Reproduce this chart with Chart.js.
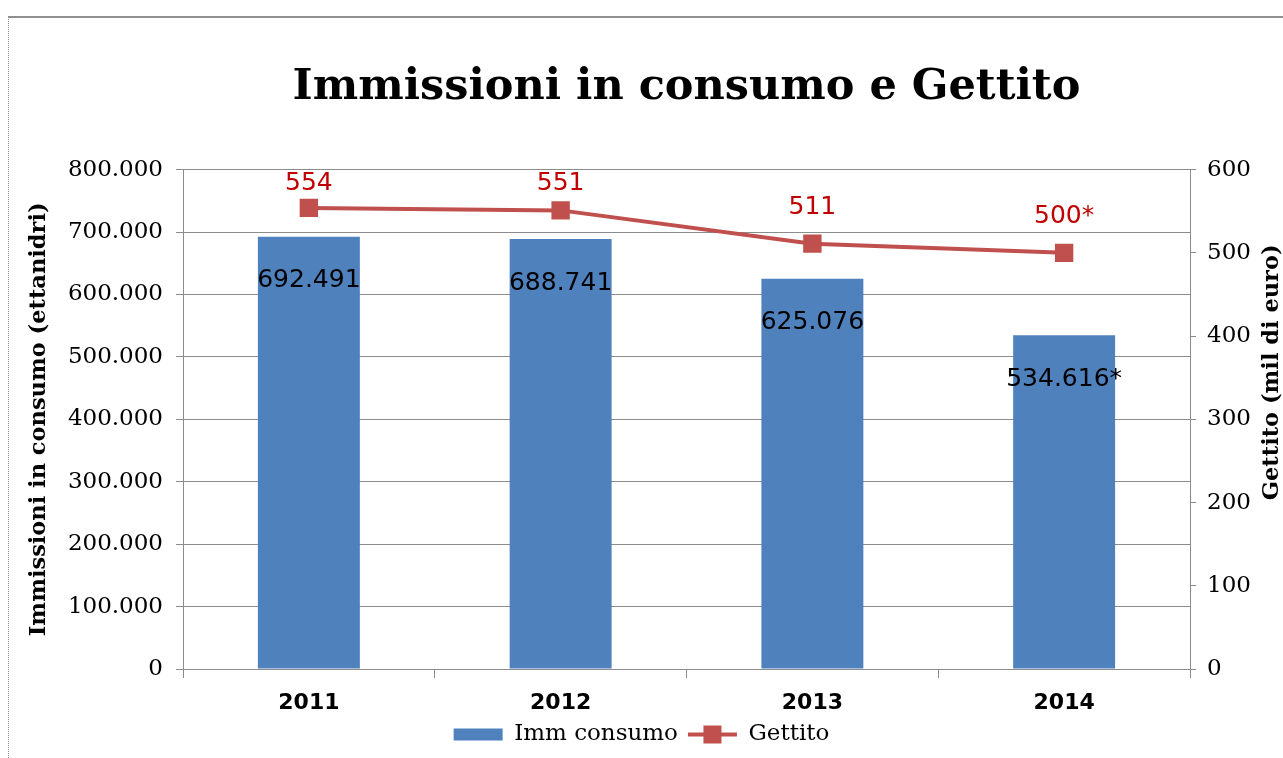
<!DOCTYPE html>
<html>
<head>
<meta charset="utf-8">
<script src="https://cdn.jsdelivr.net/npm/chart.js@4/dist/chart.umd.min.js"></script>
<style>
  html, body { margin: 0; padding: 0; background: #fff; overflow: hidden; }
  /* cornice grigia del grafico (tagliata a destra e in basso) */
  #cornice { position: absolute; left: 8px; top: 16px; width: 1400px; height: 900px;
             border-left: 1px dotted #8a8a8a; border-top: 2px solid #8f8f8f; }
  #box { position: absolute; left: 0; top: 0; width: 1283px; height: 758px; }
</style>
</head>
<body>
<div id="cornice"></div>
<div id="box"><canvas id="grafico"></canvas></div>
<script>
// Dati
var anni = ['2011', '2012', '2013', '2014'];
var immConsumo = [692491, 688741, 625076, 534616];   // ettanidri
var gettito = [554, 551, 511, 500];                  // mil di euro
var asterisco = ['', '', '', '*'];                   // 2014 = stima
var tickSinistra = [0, 100000, 200000, 300000, 400000, 500000, 600000, 700000, 800000];
var tickDestra = [0, 100, 200, 300, 400, 500, 600];

var grigio = '#8c8c8c';

// 692491 -> "692.491"
function puntini(v) {
  return String(v).replace(/\B(?=(\d{3})+(?!\d))/g, '.');
}

// etichette dei valori, titolo asse destro e quadratino nella legenda
var extra = {
  id: 'extra',
  afterDatasetsDraw: function (chart) {
    var ctx = chart.ctx;
    var area = chart.chartArea;
    ctx.save();
    ctx.textAlign = 'center';
    ctx.textBaseline = 'middle';
    ctx.font = '25px "DejaVu Sans"';
    ctx.fillStyle = '#000';
    chart.getDatasetMeta(1).data.forEach(function (bar, i) {
      ctx.fillText(puntini(immConsumo[i]) + asterisco[i], bar.x, bar.y + 44);
    });
    ctx.fillStyle = '#c00000';
    chart.getDatasetMeta(0).data.forEach(function (p, i) {
      var y = Math.max(p.y - 36, area.top + 14);
      ctx.fillText(gettito[i] + asterisco[i], p.x, y);
    });
    ctx.restore();
  },
  afterDraw: function (chart) {
    var ctx = chart.ctx;
    var area = chart.chartArea;
    var dx = chart.scales.y1;
    ctx.save();
    // titolo asse destro, letto dal basso verso l'alto
    ctx.translate(dx.right - 11, (area.top + area.bottom) / 2 - 47);
    ctx.rotate(-Math.PI / 2);
    ctx.font = 'bold 22.5px "DejaVu Serif"';
    ctx.fillStyle = '#000';
    ctx.textAlign = 'center';
    ctx.textBaseline = 'middle';
    ctx.fillText('Gettito (mil di euro)', 0, 0);
    ctx.restore();

    // quadratino sul simbolo della linea in legenda
    var hb = chart.legend.legendHitBoxes[1];
    if (hb) {
      var cx = hb.left + 49 / 2;
      var cy = hb.top + hb.height / 2;
      ctx.save();
      ctx.fillStyle = '#c0504d';
      ctx.fillRect(cx - 9, cy - 9, 18, 18);
      ctx.restore();
    }
  }
};

var ctx = document.getElementById('grafico').getContext('2d');
var grafico = new Chart(ctx, {
  type: 'bar',
  data: {
    labels: anni,
    datasets: [{
      type: 'line',
      label: 'Gettito',
      data: gettito,
      yAxisID: 'y1',
      borderColor: '#c0504d',
      backgroundColor: '#c0504d',
      borderWidth: 4,
      pointStyle: 'rect',
      pointRadius: 13,
      pointHoverRadius: 13,
      pointBorderWidth: 0,
      tension: 0,
      order: 0
    }, {
      label: 'Imm consumo',
      data: immConsumo,
      yAxisID: 'y',
      backgroundColor: '#4f81bd',
      borderWidth: 0,
      categoryPercentage: 1,
      barPercentage: 0.405,
      order: 1
    }]
  },
  options: {
    responsive: true,
    maintainAspectRatio: false,
    animation: false,
    layout: { padding: { top: 0, left: 0, right: 0, bottom: 2 } },
    plugins: {
      title: {
        display: true,
        text: 'Immissioni in consumo e Gettito',
        fullSize: false,
        color: '#000',
        font: { family: 'DejaVu Serif', size: 43, weight: 'bold' },
        padding: { top: 62, bottom: 56 }
      },
      legend: {
        position: 'bottom',
        reverse: true,
        labels: {
          color: '#000',
          font: { family: 'DejaVu Serif', size: 23 },
          usePointStyle: true,
          pointStyleWidth: 49,
          boxHeight: 12,
          padding: 10,
          generateLabels: function (chart) {
            var items = Chart.defaults.plugins.legend.labels.generateLabels(chart);
            items.forEach(function (it) {
              if (it.datasetIndex === 0) {
                it.pointStyle = 'line';
                it.lineWidth = 4;
                it.strokeStyle = '#c0504d';
              } else {
                it.pointStyle = 'rect';
              }
            });
            return items;
          }
        }
      },
      tooltip: { enabled: false }
    },
    scales: {
      x: {
        afterFit: function (scale) { scale.height = 44; },
        grid: { display: true, offset: true, drawOnChartArea: false, tickLength: 9, color: grigio },
        border: { color: grigio },
        ticks: { color: '#000', padding: 12, font: { family: 'DejaVu Sans', size: 22, weight: 'bold' } }
      },
      y: {
        position: 'left',
        min: 0,
        max: tickSinistra[tickSinistra.length - 1],
        afterBuildTicks: function (scale) {
          scale.ticks = tickSinistra.map(function (v) { return { value: v }; });
        },
        afterFit: function (scale) { scale.width = 183; },
        grid: { color: grigio, tickLength: 7 },
        border: { color: grigio },
        ticks: {
          color: '#000',
          padding: 13,
          font: { family: 'DejaVu Serif', size: 23 },
          callback: function (v) { return puntini(v); }
        },
        title: {
          display: true,
          text: 'Immissioni in consumo (ettanidri)',
          color: '#000',
          font: { family: 'DejaVu Serif', size: 22.5, weight: 'bold' },
          padding: { top: 26, bottom: 0 }
        }
      },
      y1: {
        position: 'right',
        min: 0,
        max: tickDestra[tickDestra.length - 1],
        afterBuildTicks: function (scale) {
          scale.ticks = tickDestra.map(function (v) { return { value: v }; });
        },
        afterFit: function (scale) { scale.width = 93; },
        grid: { drawOnChartArea: false, color: grigio, tickLength: 6 },
        border: { color: grigio },
        ticks: {
          color: '#000',
          padding: 11,
          font: { family: 'DejaVu Serif', size: 23 }
        }
      }
    }
  },
  plugins: [extra]
});
</script>
</body>
</html>
